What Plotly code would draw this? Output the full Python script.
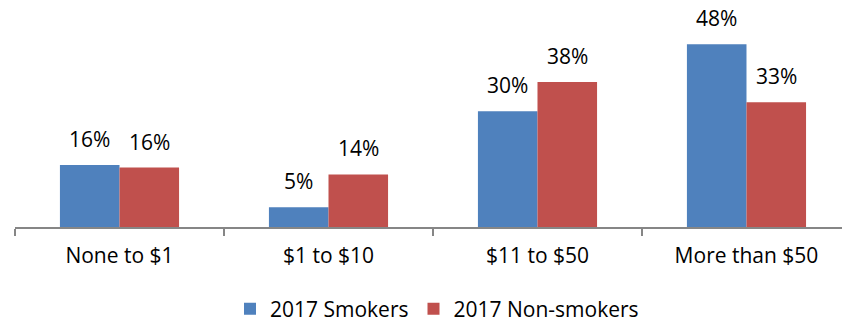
import plotly.graph_objects as go

categories = ["None to $1", "$1 to $10", "$11 to $50", "More than $50"]
smokers = [16.3, 5.2, 30.4, 48.0]
non_smokers = [15.6, 13.8, 38.1, 32.8]
series_names = ["2017 Smokers", "2017 Non-smokers"]
colors = ["#4F81BD", "#C0504D"]

FONT = "Open Sans"
bargap = 0.43
half = (1 - bargap) / 4  # centre offset of each bar in a group

fig = go.Figure()
for name, vals, col in zip(series_names, [smokers, non_smokers], colors):
    fig.add_trace(go.Bar(x=categories, y=vals, name=name, marker_color=col,
                         marker_line_width=0, hoverinfo="skip"))

annotations = []
for k, vals in enumerate([smokers, non_smokers]):
    off = -half if k == 0 else half
    for i, v in enumerate(vals):
        annotations.append(dict(x=i + off, y=v, xref="x", yref="y",
                                text=f"{v:.0f}%", showarrow=False,
                                yanchor="middle", yshift=26,
                                font=dict(family=FONT, size=21, color="#000")))

fig.update_layout(
    width=842, height=321,
    margin=dict(l=15, r=0, t=10, b=94, autoexpand=False),
    paper_bgcolor="white", plot_bgcolor="white",
    barmode="group", bargap=bargap, bargroupgap=0,
    font=dict(family=FONT, size=21, color="#000"),
    annotations=annotations,
    showlegend=True,
    legend=dict(orientation="h", x=(230 - 15) / 827, xanchor="left",
                y=(227 - 309) / 217, yanchor="middle",
                font=dict(family=FONT, size=21)),
    xaxis=dict(type="category", range=[-0.5, 3.457], showline=True,
               linecolor="#868686", linewidth=2, ticks="outside",
               tickson="boundaries", ticklen=7, tickwidth=1.5, tickcolor="#868686",
               showgrid=False, automargin=False, ticklabelstandoff=9,
               tickfont=dict(family=FONT, size=21)),
    yaxis=dict(range=[0, 57.0], visible=False, showgrid=False, zeroline=False,
               automargin=False),
)

fig.write_html("out.html", config={"displayModeBar": False},
               post_script="document.body.style.margin='0';document.body.style.overflow='hidden';")
